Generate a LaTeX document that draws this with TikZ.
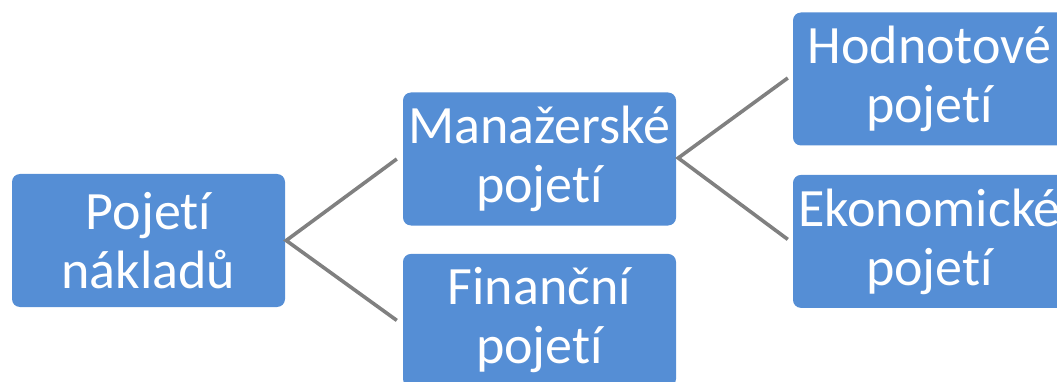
\documentclass[tikz,border=0pt]{standalone}
\usepackage{fontspec}
\setmainfont[Ligatures=NoCommon]{Carlito}
\usepackage{xcolor}
\definecolor{boxblue}{HTML}{558ED5}
\definecolor{linegray}{HTML}{808080}
\usepackage{tikz}
\usetikzlibrary{positioning}

\begin{document}
\begin{tikzpicture}[
            x=1pt, y=1pt,
            node distance=28pt and 117pt,
            align=center,
            box/.style={rectangle, fill=boxblue, text=white, rounded corners=8pt, minimum width=273pt, minimum height=133pt, inner sep=0pt, font=\fontsize{54}{59}\selectfont},
            link/.style={draw=linegray, line width=3.6pt}
        ]
            \clip (0,0) rectangle (1057,-382);
            \useasboundingbox (0,0) rectangle (1057,-382);
            % Nodes
            \node[box] (naklady) at (148.5,-240.5) {Pojetí\\nákladů};
            \node[box] (manazer) at (539.5,-159) {Manažerské\\pojetí};
            \node[box, below=of manazer] (financni) {Finanční\\pojetí};
            \node[box] (hodnota) at (929.5,-79) {Hodnotové\\pojetí};
            \node[box, below=29pt of hodnota] (ekonom) {Ekonomické\\pojetí};

            % Links
            \draw[link] ([xshift=-6pt]manazer.west) -- ([xshift=1pt]naklady.east) -- ([xshift=-6pt]financni.west);
            \draw[link] ([xshift=-5pt,yshift=1pt]hodnota.west) -- ([xshift=2pt,yshift=1pt]manazer.east) -- ([xshift=-5pt,yshift=2pt]ekonom.west);
        \end{tikzpicture}
\end{document}
